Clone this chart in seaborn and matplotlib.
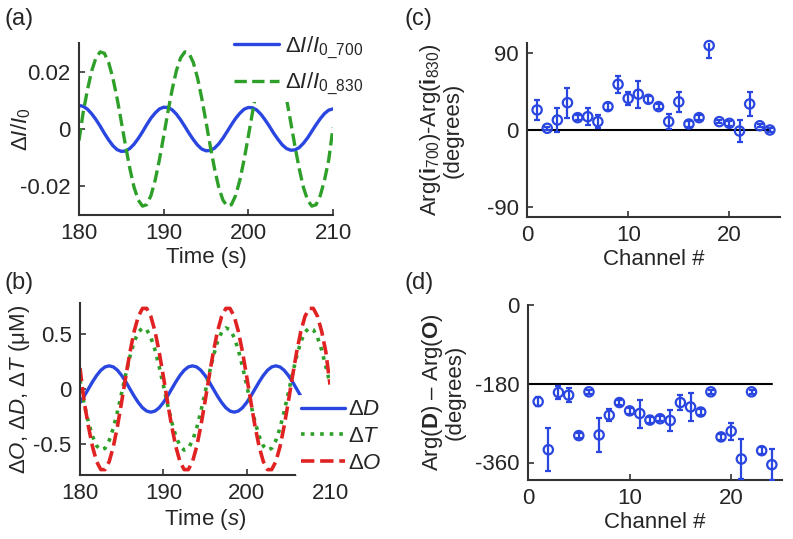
import numpy as np
import matplotlib
matplotlib.use('Agg')
import matplotlib.pyplot as plt
import seaborn as sns

# ---- data ----
# (a) normalised intensity change, 0.5 s sampling
time_a = np.arange(180, 210.01, 0.5)
di_700 = [0.0082, 0.0079, 0.0069, 0.0053, 0.0033, 0.0010, -0.0015, -0.0038, -0.0058, -0.0072,
          -0.0078, -0.0077, -0.0068, -0.0053, -0.0033, -0.0010, 0.0015, 0.0038, 0.0056, 0.0070,
          0.0076, 0.0075, 0.0067, 0.0052, 0.0032, 0.0009, -0.0015, -0.0037, -0.0056, -0.0070,
          -0.0076, -0.0075, -0.0067, -0.0052, -0.0032, -0.0009, 0.0015, 0.0037, 0.0055, 0.0069,
          0.0075, 0.0074, 0.0066, 0.0051, 0.0031, 0.0009, -0.0015, -0.0036, -0.0055, -0.0068,
          -0.0074, -0.0073, -0.0065, -0.0050, -0.0031, -0.0008, 0.0015, 0.0036, 0.0054, 0.0066,
          0.0070]
di_830 = [-0.0040, 0.0059, 0.0137, 0.0203, 0.0248, 0.0269, 0.0264, 0.0232, 0.0178, 0.0107,
          0.0025, -0.0059, -0.0137, -0.0203, -0.0248, -0.0269, -0.0264, -0.0232, -0.0178, -0.0107,
          -0.0025, 0.0059, 0.0137, 0.0203, 0.0248, 0.0269, 0.0264, 0.0232, 0.0178, 0.0107,
          0.0025, -0.0059, -0.0137, -0.0203, -0.0248, -0.0269, -0.0264, -0.0232, -0.0178, -0.0107,
          -0.0025, 0.0059, 0.0137, 0.0203, 0.0248, 0.0269, 0.0264, 0.0232, 0.0178, 0.0107,
          0.0025, -0.0059, -0.0137, -0.0203, -0.0248, -0.0269, -0.0264, -0.0232, -0.0178, -0.0107,
          0.0005]

# (b) concentration changes (uM)
time_b = np.arange(180, 210.01, 0.5)
time_d = np.arange(180, 206.51, 0.5)
d_D = [-0.123, -0.065, 0.000, 0.065, 0.123, 0.170, 0.200, 0.210, 0.200, 0.170,
       0.123, 0.065, 0.000, -0.065, -0.123, -0.170, -0.200, -0.210, -0.200, -0.170,
       -0.123, -0.065, 0.000, 0.065, 0.123, 0.170, 0.200, 0.210, 0.200, 0.170,
       0.123, 0.065, 0.000, -0.065, -0.123, -0.170, -0.200, -0.210, -0.200, -0.170,
       -0.123, -0.065, 0.000, 0.065, 0.123, 0.170, 0.200, 0.210, 0.200, 0.170,
       0.123, 0.065, 0.000, -0.065]
d_T = [0.080, -0.138, -0.297, -0.428, -0.516, -0.554, -0.538, -0.468, -0.354, -0.204,
       -0.035, 0.138, 0.297, 0.428, 0.516, 0.554, 0.538, 0.468, 0.354, 0.204,
       0.035, -0.138, -0.297, -0.428, -0.516, -0.554, -0.538, -0.468, -0.354, -0.204,
       -0.035, 0.138, 0.297, 0.428, 0.516, 0.554, 0.538, 0.468, 0.354, 0.204,
       0.035, -0.138, -0.297, -0.428, -0.516, -0.554, -0.538, -0.468, -0.354, -0.204,
       -0.035, 0.138, 0.297, 0.428, 0.516, 0.554, 0.538, 0.468, 0.354, 0.204,
       0.050]
d_O = [0.190, -0.115, -0.336, -0.523, -0.659, -0.731, -0.731, -0.659, -0.523, -0.336,
       -0.115, 0.115, 0.336, 0.523, 0.659, 0.731, 0.731, 0.659, 0.523, 0.336,
       0.115, -0.115, -0.336, -0.523, -0.659, -0.731, -0.731, -0.659, -0.523, -0.336,
       -0.115, 0.115, 0.336, 0.523, 0.659, 0.731, 0.731, 0.659, 0.523, 0.336,
       0.115, -0.115, -0.336, -0.523, -0.659, -0.731, -0.731, -0.659, -0.523, -0.336,
       -0.115, 0.115, 0.336, 0.523, 0.659, 0.731, 0.731, 0.659, 0.523, 0.336,
       0.040]

# (c) / (d) phase differences per channel (degrees)
channels = list(range(1, 25))
phase_c = [23.5, 2, 11.7, 32, 14.5, 15.6, 9.8, 27.4, 53.6, 37, 42, 36,
           27.4, 9.8, 33, 7, 14.5, 99, 9.8, 7.8, -1.2, 30.5, 5, 0]
err_c = [12, 2, 14, 17.6, 3, 10, 8, 4, 10, 8, 16, 4,
         3, 9, 12, 4, 3, 15, 2, 3, 13, 14, 2, 2]
phase_d = [-220.8, -330.8, -200, -206, -298.5, -198.5, -297, -252, -223, -242, -248, -263,
           -260, -264, -223, -233, -244.6, -198.5, -301.5, -288.5, -352, -198.5, -333, -365]
err_d = [10, 49, 15, 16, 5, 5, 38, 14, 6, 6, 32, 7,
         6, 23, 18, 31, 6, 5, 6, 19, 45, 5, 8, 35]

blue = '#2a46e0'
green = '#2ea02a'
red = '#e02222'

sns.set_theme(style='ticks')
plt.rcParams['font.family'] = ['Liberation Sans', 'DejaVu Sans']
plt.rcParams['mathtext.fontset'] = 'custom'
plt.rcParams['mathtext.rm'] = 'Liberation Sans'
plt.rcParams['mathtext.it'] = 'Liberation Sans:italic'
plt.rcParams['mathtext.bf'] = 'Liberation Sans:bold'
plt.rcParams['axes.unicode_minus'] = False
plt.rcParams['xtick.direction'] = 'in'
plt.rcParams['ytick.direction'] = 'in'

fig = plt.figure(figsize=(7.93, 5.39), dpi=100)
W, H = 793, 539


def add_ax(l, t, r, b):
    return fig.add_axes([l / W, 1 - b / H, (r - l) / W, (b - t) / H])


ax_a = add_ax(79, 43, 333, 215)
ax_b = add_ax(80, 303, 330, 475)
ax_c = add_ax(527, 43, 780, 217)
ax_d = add_ax(528, 305, 782, 480)

fs = 16
for ax in [ax_a, ax_b, ax_c, ax_d]:
    sns.despine(ax=ax)
    for s in ['left', 'bottom']:
        ax.spines[s].set_linewidth(1.5)
        ax.spines[s].set_color('#333333')
    ax.tick_params(labelsize=fs, length=4, width=1.2, color='#333333', pad=6)


def white_legend(leg):
    fr = leg.get_frame()
    fr.set_facecolor('white')
    fr.set_edgecolor('none')
    fr.set_alpha(1)


def phase_plot(ax, y, err):
    # error bars are clipped to the axes, the open circles are not
    ax.errorbar(channels, y, yerr=err, fmt='none', ecolor=blue, elinewidth=1.6,
                capsize=2.5, capthick=1.6, zorder=3)
    sns.scatterplot(x=channels, y=y, ax=ax, marker='o', s=45, facecolors='none',
                    edgecolor=blue, linewidth=1.6, zorder=4, clip_on=False)


# (a)
sns.lineplot(x=time_a, y=di_700, ax=ax_a, color=blue, lw=2.4, label=r'$\Delta I/I_{\mathrm{0\_700}}$')
sns.lineplot(x=time_a, y=di_830, ax=ax_a, color=green, lw=2.4, linestyle='--', label=r'$\Delta I/I_{\mathrm{0\_830}}$')
ax_a.set_xlim(180, 210)
ax_a.set_ylim(-0.03, 0.03)
ax_a.set_xticks([180, 190, 200, 210])
ax_a.set_yticks([-0.02, 0, 0.02])
ax_a.set_yticklabels(['-0.02', '0', '0.02'])
ax_a.set_xlabel('Time (s)', fontsize=fs, labelpad=2)
ax_a.set_ylabel(r'$\Delta I/I_0$', fontsize=fs)
ax_a.yaxis.set_label_coords(-0.18, 0.5)
leg = ax_a.legend(loc='upper left', bbox_to_anchor=(0.55, 1.14), fontsize=fs, frameon=True,
                  handlelength=2.0, borderpad=0.2, labelspacing=0.45, handletextpad=0.3)
white_legend(leg)

# (b)
sns.lineplot(x=time_d, y=d_D, ax=ax_b, color=blue, lw=2.4, label=r'$\Delta D$')
sns.lineplot(x=time_b, y=d_T, ax=ax_b, color=green, lw=2.6, linestyle=':', label=r'$\Delta T$')
sns.lineplot(x=time_b, y=d_O, ax=ax_b, color=red, lw=2.6, linestyle='--', label=r'$\Delta O$')
ax_b.set_xlim(180, 210)
ax_b.set_ylim(-0.78, 0.78)
ax_b.set_xticks([180, 190, 200, 210])
ax_b.set_yticks([-0.5, 0, 0.5])
ax_b.set_yticklabels(['-0.5', '0', '0.5'])
ax_b.set_xlabel(r'Time ($s$)', fontsize=fs, labelpad=2)
ax_b.set_ylabel(r'$\Delta O$, $\Delta D$, $\Delta T$ (μM)', fontsize=fs)
ax_b.yaxis.set_label_coords(-0.19, 0.5)
leg = ax_b.legend(loc='upper left', bbox_to_anchor=(0.82, 0.53), fontsize=fs, frameon=True,
                  handlelength=2.0, borderpad=0.2, labelspacing=0.25, handletextpad=0.15)
white_legend(leg)

# (c)
ax_c.plot([0, 24], [0, 0], color='black', lw=1.5, zorder=1)
phase_plot(ax_c, phase_c, err_c)
ax_c.set_xlim(0, 25)
ax_c.set_ylim(-102, 102)
ax_c.set_xticks([0, 10, 20])
ax_c.set_yticks([-90, 0, 90])
ax_c.set_xlabel('Channel #', fontsize=fs, labelpad=2)
ax_c.set_ylabel('Arg($\\mathbf{i}_{700}$)-Arg($\\mathbf{i}_{830}$)\n(degrees)', fontsize=fs,
                linespacing=1.0)
ax_c.yaxis.set_label_coords(-0.25, 0.5)

# (d)
ax_d.plot([0, 24], [-180, -180], color='black', lw=1.5, zorder=1)
phase_plot(ax_d, phase_d, err_d)
ax_d.set_xlim(0, 25)
ax_d.set_ylim(-400, 0)
ax_d.set_xticks([0, 10, 20])
ax_d.set_yticks([-360, -180, 0])
ax_d.set_xlabel('Channel #', fontsize=fs, labelpad=2)
ax_d.set_ylabel('Arg($\\mathbf{D}$) – Arg($\\mathbf{O}$)\n(degrees)', fontsize=fs,
                linespacing=1.0)
ax_d.yaxis.set_label_coords(-0.245, 0.5)

# panel letters
for lab, x, y in [('(a)', 5, 8), ('(b)', 5, 272), ('(c)', 405, 8), ('(d)', 405, 272)]:
    fig.text(x / W, 1 - y / H, lab, fontsize=17, ha='left', va='top')

fig.savefig('out.png', dpi=100)
